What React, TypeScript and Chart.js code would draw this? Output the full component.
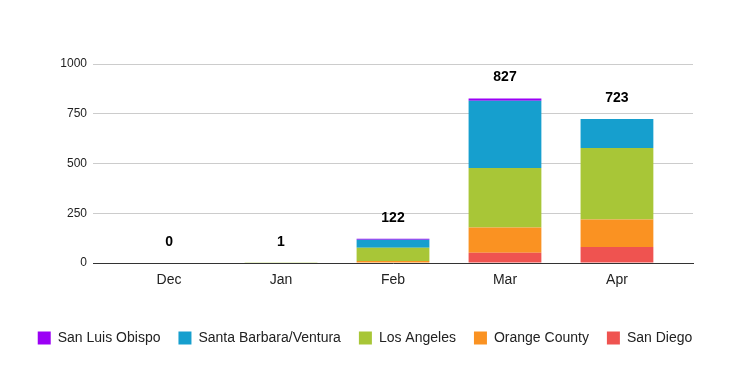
import React, { useEffect, useRef } from "react";
import { Chart, registerables } from "chart.js";

Chart.register(...registerables);

const categories = ["Dec", "Jan", "Feb", "Mar", "Apr"];
const sanDiego = [0, 0, 0, 52, 80];
const orangeCounty = [0, 0, 10, 126, 138];
const losAngeles = [0, 1, 67, 300, 360];
const santaBarbaraVentura = [0, 0, 40, 337, 145];
const sanLuisObispo = [0, 0, 5, 12, 0];
const yTicks = [0, 250, 500, 750, 1000];

const FONT = "'Liberation Sans', Arial, sans-serif";

const totalsPlugin = {
  id: "stackTotals",
  afterDatasetsDraw(chart: any) {
    const { ctx, scales } = chart;
    const xs = scales.x;
    const ys = scales.y;
    ctx.save();
    ctx.font = `bold 14px ${FONT}`;
    ctx.fillStyle = "#000000";
    ctx.textAlign = "center";
    ctx.textBaseline = "alphabetic";
    categories.forEach((_, i) => {
      let total = 0;
      chart.data.datasets.forEach((ds: any) => {
        total += Number(ds.data[i]) || 0;
      });
      const x = xs.getPixelForValue(i);
      const y = ys.getPixelForValue(total);
      ctx.fillText(String(total), x, y - 17);
    });
    ctx.restore();
  },
};

export default function App() {
  const ref = useRef<HTMLCanvasElement | null>(null);

  useEffect(() => {
    if (!ref.current) return;
    Chart.defaults.font.family = FONT;
    const chart = new Chart(ref.current, {
      type: "bar",
      data: {
        labels: categories,
        datasets: [
          { label: "San Diego", data: sanDiego, backgroundColor: "#ef5350" },
          { label: "Orange County", data: orangeCounty, backgroundColor: "#fa9222" },
          { label: "Los Angeles", data: losAngeles, backgroundColor: "#a8c637" },
          { label: "Santa Barbara/Ventura", data: santaBarbaraVentura, backgroundColor: "#169fce" },
          { label: "San Luis Obispo", data: sanLuisObispo, backgroundColor: "#9b00f5" },
        ],
      },
      options: {
        responsive: false,
        animation: false,
        layout: { padding: { top: 64, right: 0, bottom: 18, left: 0 } },
        datasets: {
          bar: { barPercentage: 0.65, categoryPercentage: 1, borderWidth: 0 },
        },
        plugins: {
          legend: {
            position: "bottom",
            reverse: true,
            labels: {
              boxWidth: 13,
              boxHeight: 13,
              padding: 18,
              color: "#222222",
              font: { size: 14, family: FONT },
            },
          },
          tooltip: { enabled: false },
        },
        scales: {
          x: {
            stacked: true,
            grid: { display: false, drawTicks: false, tickLength: 0 },
            border: { display: true, color: "#333333", width: 1 },
            ticks: { color: "#222222", font: { size: 14, family: FONT }, padding: 9 },
            afterBuildTicks: (scale: any) => {
              const pad = 0.179;
              scale._startValue -= pad;
              scale._valueRange += 2 * pad;
            },
            afterFit: (scale: any) => {
              scale.height = 50;
            },
          },
          y: {
            stacked: true,
            min: 0,
            max: 1000,
            afterBuildTicks: (scale: any) => {
              scale.ticks = yTicks.map((v) => ({ value: v }));
            },
            grid: { color: "#cccccc", drawTicks: false, tickLength: 0 },
            border: { display: false },
            ticks: {
              color: "#222222",
              font: { size: 12, family: FONT },
              padding: 6,
              callback: (v: any) => String(v),
            },
            afterFit: (scale: any) => {
              scale.width = 93;
            },
          },
          rightSpace: {
            type: "linear",
            position: "right",
            min: 0,
            max: 1000,
            grid: { display: false, drawTicks: false },
            border: { display: false },
            ticks: { display: false },
            afterFit: (scale: any) => {
              scale.width = 37;
            },
          },
        },
      },
      plugins: [totalsPlugin],
    });
    return () => chart.destroy();
  }, []);

  return (
    <div style={{ position: "fixed", left: 0, top: 0, width: 730, height: 373, background: "#ffffff" }}>
      <canvas ref={ref} width={730} height={373} />
    </div>
  );
}
